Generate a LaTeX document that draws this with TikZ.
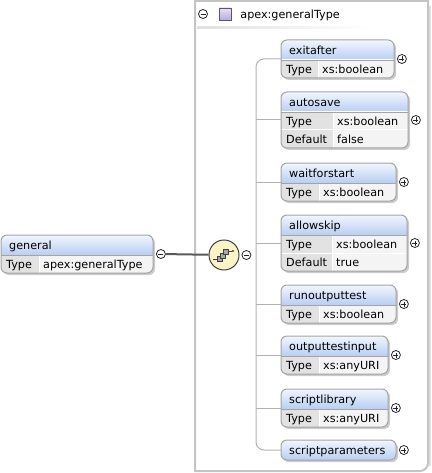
\documentclass[tikz,border=0pt]{standalone}
\usepackage{fontspec}
\setmainfont{DejaVu Sans}
\usetikzlibrary{positioning}

\definecolor{headtop}{HTML}{F2F6FD}
\definecolor{headbot}{HTML}{B8CEF3}
\definecolor{cellkey}{HTML}{E2E2E2}
\definecolor{cellval}{HTML}{F4F4F4}
\definecolor{boxline}{HTML}{A4A4A4}
\definecolor{frameline}{HTML}{C4C4C4}
\definecolor{seqfill}{HTML}{FBF4C8}
\definecolor{typetop}{HTML}{E8E2F6}
\definecolor{typebot}{HTML}{B7A9DE}

\tikzset{
	lbl/.style={font=\fontsize{11.2}{13}\selectfont, inner sep=0pt, anchor=west, text height=8.1pt, text depth=0pt},
	boxframe/.style={draw=boxline, line width=1pt, rounded corners=6pt, inner sep=0pt, outer sep=0pt, anchor=north west},
	boxshadow/.style={fill=black!20, rounded corners=6pt},
	treeline/.style={draw=black!30, line width=1pt},
	seqline/.style={draw=black!65, line width=2pt},
	xbutton/.style={circle, draw=black!85, fill=white, line width=0.8pt, inner sep=0pt, minimum size=9pt},
	xplus/.style={xbutton, path picture={\draw[line width=0.8pt] ([xshift=-2.5pt]path picture bounding box.center) -- ([xshift=2.5pt]path picture bounding box.center) ([yshift=-2.5pt]path picture bounding box.center) -- ([yshift=2.5pt]path picture bounding box.center);}},
	xminus/.style={xbutton, path picture={\draw[line width=0.8pt] ([xshift=-2.5pt]path picture bounding box.center) -- ([xshift=2.5pt]path picture bounding box.center);}},
	seqnode/.style={circle, draw=black!75, fill=seqfill, line width=1pt, minimum size=30pt, inner sep=0pt},
	typebox/.style={draw=black!50!typebot, top color=typetop, bottom color=typebot, minimum size=12pt, inner sep=0pt},
	sqr/.style={draw=black!75, fill=black!35, line width=0.8pt},
}

% #1 name, #2 x, #3 y, #4 width, #5 height, #6 title, #7 rows
\newcommand{\elbox}[7]{%
	\fill[boxshadow] (#2+2,#3+2) rectangle ++(#4,#5);
	\begin{scope}
		\clip[rounded corners=6pt] (#2,#3) rectangle ++(#4,#5);
		\fill[cellval] (#2,#3) rectangle ++(#4,#5);
		\shade[top color=headtop, bottom color=headbot] (#2,#3) rectangle ++(#4,20);
		#7
		\draw[boxline] (#2,#3+20) -- ++(#4,0);
	\end{scope}
	\node[boxframe, minimum width=#4pt, minimum height=#5pt] (#1) at (#2,#3) {};
	\node[lbl] (#1-title) at (#2+8,#3+10) {#6};
}
% #1 name, #2 x, #3 y, #4 width, #5 split, #6 key, #7 value
\newcommand{\elrow}[7]{%
	\fill[cellkey] (#2,#3) rectangle (#5,#3+18);
	\draw[white, line width=1pt] (#2,#3) -- ++(#4,0) (#5,#3) -- (#5,#3+18);
	\node[lbl] (#1-key) at (#2+5,#3+9) {#6};
	\node[lbl] (#1-val) at (#5+4,#3+9) {#7};
}

\begin{document}
\begin{tikzpicture}[x=1pt,y=-1pt]
	\useasboundingbox (0,0) rectangle (431,473);
	% type frame
	\fill[black!12] (429,6) rectangle (431,466);
	\draw[frameline, line width=2pt] (428,1) -- (195,1) -- (195,471) -- (420,471) arc[start angle=90, end angle=0, radius=8] -- cycle;
	\node[xminus] (type-minus) at (203,14) {};
	\node[typebox] (type-icon) at (225,14) {};
	\node[lbl, right=9pt of type-icon] (type-name) {apex:generalType};
	\shade[left color=black!12, right color=white] (197,27) rectangle (372,29);

	\elbox{general}{1}{235}{152}{38}{general}{\elrow{general-type}{1}{255}{152}{39}{Type}{apex:generalType}}
	\node[xminus, right=3pt of general] (general-minus) {};
	\node[seqnode] (seq) at (224,255) {};
	\draw[seqline] (general-minus) -- (seq);
	\begin{scope}[shift={(seq.center)}]
		\draw[black!75, line width=0.8pt] (-11,4) -- (-6,4) (4,-4) -- (8,-4);
		\fill[black!75] (9,-4) circle (1.2);
		\draw[sqr] (-7,1) rectangle (-2,6);
		\draw[sqr] (-4,-2) rectangle (1,3);
		\draw[sqr] (-1,-6) rectangle (4,-1);
	\end{scope}
	\node[xminus, right=2pt of seq] (seq-minus) {};

	\elbox{exitafter}{281}{40}{113}{38}{exitafter}{\elrow{exitafter-type}{281}{60}{113}{318}{Type}{xs:boolean}}
	\elbox{autosave}{281}{92}{127}{56}{autosave}{\elrow{autosave-type}{281}{112}{127}{333}{Type}{xs:boolean}\elrow{autosave-default}{281}{130}{127}{333}{Default}{false}}
	\elbox{waitforstart}{281}{163}{115}{38}{waitforstart}{\elrow{waitforstart-type}{281}{183}{115}{319}{Type}{xs:boolean}}
	\elbox{allowskip}{281}{215}{126}{56}{allowskip}{\elrow{allowskip-type}{281}{235}{126}{332}{Type}{xs:boolean}\elrow{allowskip-default}{281}{253}{126}{332}{Default}{true}}
	\elbox{runoutputtest}{281}{285}{115}{38}{runoutputtest}{\elrow{runoutputtest-type}{281}{305}{115}{319}{Type}{xs:boolean}}
	\elbox{outputtestinput}{281}{336}{107}{38}{outputtestinput}{\elrow{outputtestinput-type}{281}{356}{107}{319}{Type}{xs:anyURI}}
	\elbox{scriptlibrary}{281}{389}{107}{38}{scriptlibrary}{\elrow{scriptlibrary-type}{281}{409}{107}{319}{Type}{xs:anyURI}}
	\elbox{scriptparameters}{281}{440}{115}{20}{scriptparameters}{}

	% sequence tree
	\coordinate (trunk) at (256,255);
	\draw[treeline, rounded corners=8pt] (exitafter.west) -| (trunk) |- (scriptparameters.west);
	\foreach \el in {autosave,waitforstart,allowskip,runoutputtest,outputtestinput,scriptlibrary}
		\draw[treeline] (\el.west) -- (trunk |- \el.west);
	\foreach \el in {exitafter,autosave,waitforstart,allowskip,runoutputtest,outputtestinput,scriptlibrary,scriptparameters}
		\node[xplus, right=3pt of \el] (\el-plus) {};
\end{tikzpicture}
\end{document}
